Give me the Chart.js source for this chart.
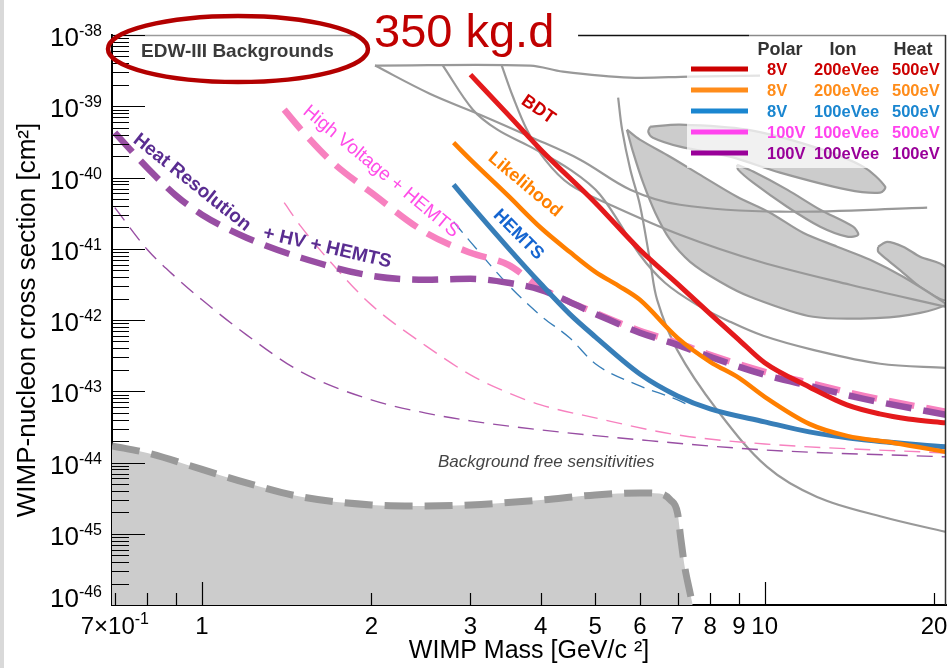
<!DOCTYPE html>
<html>
<head>
<meta charset="utf-8">
<script src="https://cdn.jsdelivr.net/npm/chart.js@4.4.1/dist/chart.umd.min.js"></script>
<style>
  html, body { margin: 0; padding: 0; background: #fff; }
  canvas { display: block; }
</style>
</head>
<body>
<canvas id="chart" width="947" height="668"></canvas>
<script>
// WIMP mass in GeV/c^2, cross section in cm^2

// projected limits (solid)
const redMass = [3.0, 3.5, 4, 5, 6, 7, 8, 9, 10, 12, 14, 16, 18, 21];
const redSigma = [2.78e-39, 7.62e-40, 2.46e-40, 4.43e-41, 9.68e-42, 3.22e-42, 1.22e-42, 5.27e-43, 2.51e-43, 1.15e-43, 6.44e-44, 4.82e-44, 4.09e-44, 3.60e-44];
const orangeMass = [2.8, 3, 3.5, 4, 4.5, 5, 5.5, 6, 7, 8, 9, 10, 12, 14, 17, 21];
const orangeSigma = [3.08e-40, 1.78e-40, 5.55e-41, 1.97e-41, 9.08e-42, 4.75e-42, 3.02e-42, 1.92e-42, 5.62e-43, 2.59e-43, 1.54e-43, 8.34e-44, 3.48e-44, 2.36e-44, 1.88e-44, 1.41e-44];
const blueMass = [2.8, 3, 3.5, 4, 4.5, 5, 6, 7, 8, 10, 12, 15, 21];
const blueSigma = [7.92e-41, 4.15e-41, 1.03e-41, 3.22e-42, 1.22e-42, 5.81e-43, 1.75e-43, 8.61e-44, 5.66e-44, 3.72e-44, 2.69e-44, 2.08e-44, 1.66e-44];

// thick dashed
const pinkMass = [1.4, 1.5, 1.7, 2, 2.5, 3, 3.5, 4, 5, 6, 7, 8, 10, 12, 15, 21];
const pinkSigma = [8.95e-40, 4.69e-40, 1.67e-40, 6.12e-41, 1.68e-41, 8.79e-42, 5.96e-42, 2.83e-42, 1.26e-42, 7.05e-43, 4.79e-43, 3.24e-43, 1.87e-43, 1.31e-43, 8.61e-44, 5.14e-44];
const purpleMass = [0.7, 0.8, 0.9, 1, 1.2, 1.5, 2, 2.5, 3, 3.5, 4, 5, 6, 7, 8, 10, 12, 15, 21];
const purpleSigma = [4.26e-40, 1.36e-40, 5.55e-41, 3.01e-41, 1.43e-41, 7.48e-42, 4.18e-42, 3.67e-42, 3.79e-42, 3.33e-42, 2.65e-42, 1.22e-42, 6.61e-43, 4.48e-43, 3.04e-43, 1.70e-43, 1.19e-43, 7.82e-44, 4.67e-44];

// background free sensitivities (thin dashed)
const purpleFreeMass = [0.7, 0.8, 0.9, 1, 1.2, 1.5, 2, 2.5, 3, 4, 6, 10, 21];
const purpleFreeSigma = [3.77e-41, 9.68e-42, 3.92e-42, 1.92e-42, 6.19e-43, 1.87e-43, 7.57e-44, 4.94e-44, 3.84e-44, 2.87e-44, 2.08e-44, 1.50e-44, 1.20e-44];
const pinkFreeMass = [1.4, 1.5, 1.7, 2, 2.5, 3, 3.5, 4, 5, 7, 10, 21];
const pinkFreeSigma = [4.43e-41, 2.04e-41, 6.25e-42, 1.63e-42, 4.34e-43, 1.70e-43, 9.51e-44, 6.44e-44, 4.23e-44, 2.44e-44, 1.82e-44, 1.36e-44];
const blueFreeMass = [2.8, 3, 3.5, 4, 4.5, 5, 6, 7, 7.3];
const blueFreeSigma = [2.39e-41, 1.25e-41, 3.12e-42, 1.15e-42, 5.62e-43, 2.43e-43, 1.19e-43, 7.57e-44, 6.44e-44];

// neutrino-like floor (grey filled, dashed border)
const floorMass = [0.692, 0.8, 1, 1.2, 1.5, 2, 2.5, 3, 4, 5, 6, 6.5, 6.8, 7, 7.1, 7.2, 7.35, 7.45];
const floorSigma = [1.71e-44, 1.36e-44, 8.0e-45, 5.17e-45, 3.3e-45, 2.54e-45, 2.45e-45, 2.54e-45, 2.98e-45, 3.51e-45, 3.74e-45, 3.66e-45, 2.98e-45, 1.96e-45, 8.18e-46, 3.65e-46, 1.62e-46, 1.0e-46];

// EDW-III backgrounds: other experiments (grey lines)
const greyTopMass = [2.03, 3.83, 4.38, 5.77, 7.37, 9.81];
const greyTopSigma = [3.72e-39, 3.72e-39, 3.06e-39, 2.52e-39, 2.61e-39, 2.69e-39];
const greyAMass = [2.03, 2.54, 3.12, 3.83, 4.70, 5.77, 7.07, 10.65, 19.44];
const greyASigma = [3.72e-39, 1.50e-39, 7.62e-40, 3.74e-40, 1.78e-40, 6.75e-41, 4.15e-41, 3.31e-41, 3.77e-41];
const greyBMass = [2.68, 3.03, 3.35, 3.83, 4.51, 5.10, 6.00, 6.65, 7.58, 8.68, 9.94, 12.19, 16.04, 21.0];
const greyBSigma = [3.72e-39, 8.95e-40, 4.69e-40, 2.71e-40, 1.29e-40, 5.73e-41, 8.24e-42, 3.33e-42, 1.63e-42, 9.44e-43, 6.00e-43, 3.81e-43, 2.43e-43, 2.13e-43];
const greyCMass = [3.41, 3.57, 3.78, 4.07, 4.51, 5.31, 7.07, 9.81, 14.19, 21.0];
const greyCSigma = [3.72e-39, 1.36e-39, 4.69e-40, 1.78e-40, 7.92e-41, 4.15e-41, 1.57e-41, 6.56e-42, 3.12e-42, 1.53e-42];
const greyDMass = [5.49, 5.58, 5.77, 6.00, 6.26, 6.44, 6.99, 8.23, 10.10, 12.39, 16.23, 21.0];
const greyDSigma = [1.32e-39, 4.69e-40, 1.29e-40, 4.15e-41, 6.56e-42, 1.92e-42, 3.81e-43, 5.48e-44, 8.67e-45, 3.29e-45, 1.72e-45, 1.06e-45];

// signal regions (grey contours)
const region1Mass = [5.69, 6.00, 6.79, 7.77, 8.93, 10.22, 11.70, 13.45, 15.39, 17.62, 20.75, 21.0, 18.89, 16.04, 12.19, 9.42, 8.33, 7.37, 6.79, 6.39, 6.08, 5.84, 5.69];
const region1Sigma = [4.69e-40, 3.40e-40, 1.96e-40, 1.03e-40, 5.37e-41, 3.21e-41, 1.68e-41, 1.07e-41, 7.02e-42, 4.04e-42, 1.80e-42, 1.63e-42, 1.26e-42, 1.07e-42, 1.11e-42, 2.12e-42, 3.44e-42, 6.56e-42, 1.34e-41, 3.21e-41, 8.45e-41, 2.23e-40, 4.69e-40];
const region2Mass = [6.26, 7.07, 9.30, 12.19, 14.96, 16.37, 16.04, 14.01, 10.65, 8.68, 7.07, 6.33, 6.21, 6.26];
const region2Sigma = [5.17e-40, 5.52e-40, 4.69e-40, 2.71e-40, 1.42e-40, 7.43e-41, 6.12e-41, 6.75e-41, 1.17e-40, 1.96e-40, 2.71e-40, 3.62e-40, 4.40e-40, 5.17e-40];
const region3Mass = [8.93, 9.54, 10.96, 12.55, 14.36, 14.66, 14.01, 12.55, 10.96, 9.54, 8.97, 8.93];
const region3Sigma = [1.51e-40, 1.21e-40, 6.75e-41, 3.53e-41, 2.04e-41, 1.57e-41, 1.48e-41, 2.04e-41, 3.89e-41, 8.45e-41, 1.29e-40, 1.51e-40];
const region4Mass = [15.91, 16.51, 17.62, 18.89, 21.0, 21.0, 18.89, 17.62, 16.51, 15.91, 15.91];
const region4Sigma = [1.07e-41, 1.25e-41, 1.07e-41, 7.73e-42, 5.41e-42, 1.92e-42, 2.92e-42, 4.60e-42, 7.02e-42, 9.08e-42, 1.07e-41];

// axes
const xTickValues = [0.7, 0.8, 0.9, 1, 2, 3, 4, 5, 6, 7, 8, 9, 10, 20];
const xTickLabels = ['7×10', '1', '2', '3', '4', '5', '6', '7', '8', '9', '10', '20'];
const xLabelValues = [0.7, 1, 2, 3, 4, 5, 6, 7, 8, 9, 10, 20];
const yMinExp = -46;
const yMaxExp = -38;

// legend table
const legendPolar = ['8V', '8V', '8V', '100V', '100V'];
const legendIon = ['200eVee', '200eVee', '100eVee', '100eVee', '100eVee'];
const legendHeat = ['500eV', '500eV', '500eV', '500eV', '100eV'];
const legendColors = ['#cc0000', '#ff8c1a', '#1a86d0', '#ff44ee', '#990099'];

// curve labels, anchored in data coordinates
const curveLabels = [
  { text: 'BDT', m: 3.96, s: 8.95e-40, rot: 35, color: '#cc0000', font: 'bold 18px "Liberation Sans", Arial, sans-serif' },
  { text: 'Likelihood', m: 3.75, s: 7.92e-41, rot: 40, color: '#ff8000', font: 'bold 18px "Liberation Sans", Arial, sans-serif' },
  { text: 'HEMTS', m: 3.65, s: 1.57e-41, rot: 45, color: '#1565d0', font: 'bold 18px "Liberation Sans", Arial, sans-serif' },
  { text: 'High Voltage + HEMTS', m: 2.08, s: 1.21e-40, rot: 39.5, color: '#ff4de8', font: '19px "Liberation Sans", Arial, sans-serif' },
  { text: 'Heat Resolution', m: 0.96, s: 8.45e-41, rot: 38.5, color: '#5a2d91', font: 'bold 19px "Liberation Sans", Arial, sans-serif' },
  { text: '+ HV + HEMTS', m: 1.67, s: 1.03e-41, rot: 13, color: '#5a2d91', font: 'bold 19px "Liberation Sans", Arial, sans-serif' },
  { text: 'Background free sensitivities', m: 4.09, s: 8.67e-45, rot: 0, color: '#444444', font: 'italic 17px "Liberation Sans", Arial, sans-serif', baseline: 'alphabetic' }
];

const FONT = '"Liberation Sans", Arial, sans-serif';

function pts(mass, sigma) {
  return mass.map((m, i) => ({ x: m, y: sigma[i] }));
}

const datasets = [];
function addLine(mass, sigma, opts) {
  datasets.push(Object.assign({
    data: pts(mass, sigma),
    showLine: true,
    pointRadius: 0,
    fill: false
  }, opts));
}

// grey contours
[[region1Mass, region1Sigma], [region2Mass, region2Sigma], [region3Mass, region3Sigma], [region4Mass, region4Sigma]].forEach(r => {
  addLine(r[0], r[1], { fill: 'shape', backgroundColor: '#cccccc', borderColor: '#999999', borderWidth: 2.2, tension: 0.3, order: 20 });
});
// grey lines
[[greyTopMass, greyTopSigma], [greyAMass, greyASigma], [greyBMass, greyBSigma], [greyCMass, greyCSigma], [greyDMass, greyDSigma]].forEach(r => {
  addLine(r[0], r[1], { borderColor: '#999999', borderWidth: 2.2, tension: 0.35, order: 19 });
});
// floor
addLine(floorMass, floorSigma, { fill: 'start', backgroundColor: '#cccccc', borderColor: '#999999', borderWidth: 7, borderDash: [28, 12], cubicInterpolationMode: 'monotone', order: 18 });
// thin dashed
addLine(purpleFreeMass, purpleFreeSigma, { borderColor: '#984ea3', borderWidth: 1.4, borderDash: [16, 9], cubicInterpolationMode: 'monotone', order: 10 });
addLine(pinkFreeMass, pinkFreeSigma, { borderColor: '#f781bf', borderWidth: 1.4, borderDash: [16, 9], cubicInterpolationMode: 'monotone', order: 10 });
addLine(blueFreeMass, blueFreeSigma, { borderColor: '#377eb8', borderWidth: 1.3, borderDash: [14, 8], cubicInterpolationMode: 'monotone', order: 10 });
// thick dashed
addLine(pinkMass, pinkSigma, { borderColor: '#f781bf', borderWidth: 6.5, borderDash: [26, 12], cubicInterpolationMode: 'monotone', order: 6 });
addLine(purpleMass, purpleSigma, { borderColor: '#984ea3', borderWidth: 6.5, borderDash: [26, 12], cubicInterpolationMode: 'monotone', order: 5 });
// solid
addLine(blueMass, blueSigma, { borderColor: '#377eb8', borderWidth: 5, cubicInterpolationMode: 'monotone', order: 4 });
addLine(orangeMass, orangeSigma, { borderColor: '#ff7f00', borderWidth: 4.5, cubicInterpolationMode: 'monotone', order: 3 });
addLine(redMass, redSigma, { borderColor: '#e41a1c', borderWidth: 5, cubicInterpolationMode: 'monotone', order: 2 });

function supText(c, base, exp, xRight, yBase, bigPx, smallPx, raise) {
  c.font = bigPx + 'px ' + FONT;
  const w1 = c.measureText(base).width;
  c.font = smallPx + 'px ' + FONT;
  const w2 = c.measureText(exp).width;
  c.textAlign = 'left';
  c.textBaseline = 'alphabetic';
  c.font = bigPx + 'px ' + FONT;
  c.fillText(base, xRight - w1 - w2, yBase);
  c.font = smallPx + 'px ' + FONT;
  c.fillText(exp, xRight - w2, yBase - raise);
  return w1 + w2;
}

const decor = {
  id: 'decor',
  beforeDraw(chart) {
    const c = chart.ctx;
    c.save();
    c.fillStyle = '#ffffff';
    c.fillRect(0, 0, chart.width, chart.height);
    c.fillStyle = '#d9d9d9';
    c.fillRect(0, 0, 4, chart.height);
    c.restore();
  },
  afterDatasetsDraw(chart) {
    const c = chart.ctx;
    const a = chart.chartArea;
    const x = chart.scales.x;
    const y = chart.scales.y;
    c.save();

    // curve labels
    curveLabels.forEach(l => {
      const px = x.getPixelForValue(l.m);
      const py = y.getPixelForValue(l.s);
      c.save();
      c.translate(px, py);
      c.rotate(l.rot * Math.PI / 180);
      c.font = l.font;
      c.fillStyle = l.color;
      c.textAlign = 'center';
      c.textBaseline = l.baseline || 'middle';
      c.fillText(l.text, 0, 0);
      c.restore();
    });

    // legend box
    const lx = 687, ly = a.top, lw = a.right - 687, lh = 133;
    c.fillStyle = 'rgba(255,255,255,0.72)';
    c.fillRect(lx, ly, lw, lh);
    c.fillStyle = '#333333';
    c.font = 'bold 18px ' + FONT;
    c.textAlign = 'center';
    c.textBaseline = 'alphabetic';
    c.fillText('Polar', 780, 55);
    c.fillText('Ion', 843, 55);
    c.fillText('Heat', 913, 55);
    c.textAlign = 'left';
    c.font = 'bold 16.5px ' + FONT;
    legendPolar.forEach((p, i) => {
      const ry = 69 + i * 21;
      c.strokeStyle = legendColors[i];
      c.lineWidth = 5;
      c.beginPath();
      c.moveTo(691, ry);
      c.lineTo(748, ry);
      c.stroke();
      c.fillStyle = legendColors[i];
      c.fillText(p, 767, ry + 6);
      c.fillText(legendIon[i], 814, ry + 6);
      c.fillText(legendHeat[i], 892, ry + 6);
    });

    // frame: top and right
    const top = a.top + 0.5;
    c.lineWidth = 1.5;
    c.strokeStyle = '#9a9a9a';
    c.beginPath(); c.moveTo(a.left, top); c.lineTo(x.getPixelForValue(1.87), top); c.stroke();
    c.strokeStyle = '#111111';
    c.beginPath(); c.moveTo(x.getPixelForValue(4.66), top); c.lineTo(x.getPixelForValue(9.38), top); c.stroke();
    c.strokeStyle = '#8a8a8a';
    c.beginPath(); c.moveTo(x.getPixelForValue(9.38), top); c.lineTo(a.right, top); c.stroke();
    c.strokeStyle = '#333333';
    c.beginPath(); c.moveTo(a.right - 0.5, a.top); c.lineTo(a.right - 0.5, a.bottom); c.stroke();

    // ticks
    c.strokeStyle = '#000000';
    c.lineWidth = 1.2;
    c.beginPath();
    for (let e = yMinExp; e <= yMaxExp; e++) {
      for (let k = 1; k <= 9; k++) {
        if (e === yMaxExp && k > 1) break;
        const p = Math.round(y.getPixelForValue(k * Math.pow(10, e))) + 0.5;
        const len = k === 1 ? 33 : 17;
        c.moveTo(a.left, p);
        c.lineTo(a.left + len, p);
      }
    }
    xTickValues.forEach(v => {
      const p = Math.round(x.getPixelForValue(v)) + 0.5;
      const len = (v === 1 || v === 10) ? 23 : 12;
      c.moveTo(p, a.bottom);
      c.lineTo(p, a.bottom - len);
    });
    c.stroke();

    // y tick labels
    c.fillStyle = '#000000';
    for (let e = yMinExp; e <= yMaxExp; e++) {
      const p = y.getPixelForValue(Math.pow(10, e));
      const base = e === yMinExp ? p + 2 : p + 11;
      supText(c, '10', String(e), 102, base, 26, 16, 10);
    }

    // x tick labels
    xLabelValues.forEach((v, i) => {
      const p = x.getPixelForValue(v);
      if (i === 0) {
        c.font = '24px ' + FONT;
        const w1 = c.measureText(xTickLabels[0]).width;
        c.font = '16px ' + FONT;
        const w2 = c.measureText('-1').width;
        supText(c, xTickLabels[0], '-1', p + (w1 + w2) / 2, 634, 24, 16, 10);
      } else {
        c.font = '24px ' + FONT;
        c.textAlign = 'center';
        c.textBaseline = 'alphabetic';
        c.fillText(xTickLabels[i], p, 634);
      }
    });

    // exposure note and EDW-III label
    c.fillStyle = '#c00000';
    c.font = '47px ' + FONT;
    c.textAlign = 'left';
    c.fillText('350 kg.d', 374, 47);
    c.fillStyle = '#3a3a3a';
    c.font = 'bold 19px ' + FONT;
    c.fillText('EDW-III Backgrounds', 141, 57);
    c.strokeStyle = '#b30000';
    c.lineWidth = 4.5;
    c.beginPath();
    c.ellipse(238, 49, 130, 33, 0, 0, Math.PI * 2);
    c.stroke();

    c.restore();
  }
};

new Chart(document.getElementById('chart'), {
  type: 'scatter',
  data: { datasets: datasets },
  options: {
    responsive: false,
    animation: false,
    devicePixelRatio: 1,
    layout: { padding: { top: 35, right: 1, left: 0, bottom: 0 } },
    plugins: {
      legend: { display: false },
      tooltip: { enabled: false }
    },
    elements: { point: { radius: 0 } },
    scales: {
      x: {
        type: 'logarithmic',
        position: 'bottom',
        min: 0.692,
        max: 21,
        grid: { display: false },
        ticks: { display: false },
        border: { display: true, color: '#000000', width: 2 },
        title: {
          display: true,
          text: 'WIMP Mass [GeV/c ²]',
          color: '#000000',
          font: { family: FONT, size: 25 },
          padding: { top: 0, bottom: 2 }
        },
        afterFit: s => { s.height = 63; }
      },
      y: {
        type: 'logarithmic',
        position: 'left',
        min: 1e-46,
        max: 1e-38,
        grid: { display: false },
        ticks: { display: false },
        border: { display: true, color: '#000000', width: 2 },
        title: {
          display: true,
          text: 'WIMP-nucleon cross section [cm²]',
          color: '#000000',
          font: { family: FONT, size: 26 },
          padding: { top: 12, bottom: 0 }
        },
        afterFit: s => { s.width = 112; }
      }
    }
  },
  plugins: [decor]
});
</script>
</body>
</html>
